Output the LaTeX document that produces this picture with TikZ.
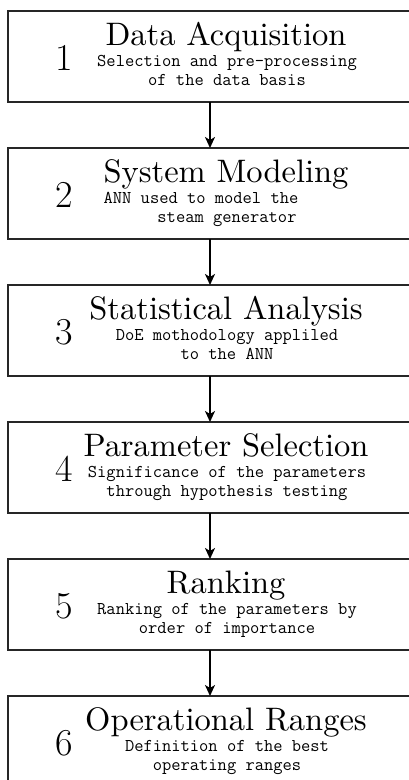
\documentclass[tikz,border=0pt]{standalone}
\usepackage{fontspec}
\newfontfamily\ttlfont{lmroman10-regular.otf}
\usetikzlibrary{arrows.meta}
\begin{document}
\begin{tikzpicture}[x=1pt,y=-1pt]
\useasboundingbox (0,0) rectangle (409,780);
\tikzset{
  stepbox/.style={draw=black!85, line width=1.1pt, minimum width=404pt, minimum height=91pt,
    anchor=north west, inner sep=0pt, outer sep=0pt},
  numtxt/.style={font=\fontsize{38}{40}\selectfont, anchor=center, inner sep=0pt},
  ttltxt/.style={font=\ttlfont\fontsize{32.5}{36}\selectfont, anchor=base, inner sep=0pt},
  subtxt/.style={font=\fontsize{18}{18.5}\selectfont\ttfamily, anchor=base, inner sep=0pt},
  link/.style={-{Stealth[length=11pt,width=10pt,inset=3pt]}, line width=1.8pt}
}
\newcommand\mkstep[5]{%
  \node[stepbox] (b#1) at (8,#2) {};
  \node[numtxt] (n#1) at (64,#2+47) {#1};
  \node[ttltxt] (t#1) at (226,#2+34) {#3};
  \node[subtxt] (s#1) at (227,#2+55.5) {\begin{tabular}[t]{@{}c@{}}#4\end{tabular}};
}
\mkstep{1}{11}{Data Acquisition}{Selection and pre-processing\\of the data basis}{}
\mkstep{2}{148}{System Modeling}{ANN used to model the\hspace*{52pt}\\steam generator}{}
\mkstep{3}{285}{Statistical Analysis}{DoE mothodology appliled\\to the ANN}{}
\mkstep{4}{422}{Parameter Selection}{Significance of the parameters\\through hypothesis testing}{}
\mkstep{5}{559}{Ranking}{Ranking of the parameters by\\order of importance}{}
\mkstep{6}{696}{Operational Ranges}{Definition of the best\\operating ranges}{}
\foreach \a/\b in {1/2,2/3,3/4,4/5,5/6}
  \draw[link] (b\a.south) -- (b\b.north);
\end{tikzpicture}
\end{document}
